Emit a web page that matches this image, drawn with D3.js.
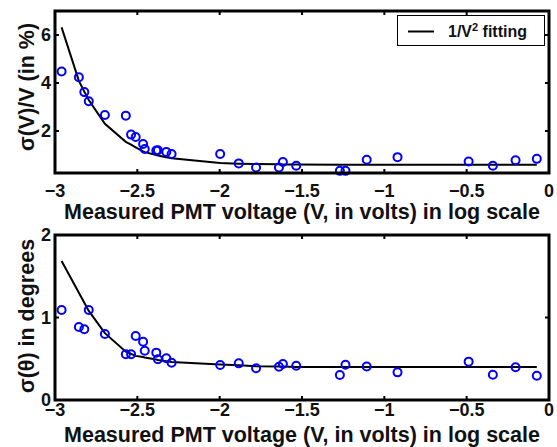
<!DOCTYPE html>
<html>
<head>
<meta charset="utf-8">
<script src="https://cdn.jsdelivr.net/npm/d3@7"></script>
<style>
  html, body { margin: 0; padding: 0; background: #fff; }
  svg { display: block; font-family: "Liberation Sans", Arial, Helvetica, sans-serif; font-weight: bold; }
</style>
</head>
<body>
<svg id="chart" width="557" height="447"></svg>
<script>
// log10 of the measured PMT voltage, shared by both panels
const logV = [-2.960, -2.855, -2.822, -2.795, -2.697, -2.570, -2.538, -2.510, -2.465, -2.455,
              -2.385, -2.375, -2.324, -2.292, -1.997, -1.884, -1.779, -1.640, -1.616, -1.535,
              -1.270, -1.236, -1.107, -0.920, -0.488, -0.341, -0.203, -0.074];

// relative voltage resolution sigma(V)/V in %
const sigmaV = [4.48, 4.24, 3.62, 3.24, 2.67, 2.64, 1.85, 1.75, 1.46, 1.25,
                1.19, 1.20, 1.13, 1.04, 1.04, 0.65, 0.48, 0.48, 0.71, 0.55,
                0.34, 0.34, 0.80, 0.91, 0.73, 0.55, 0.78, 0.84];
const fitV = [6.32, 4.09, 3.64, 3.29, 2.30, 1.55, 1.43, 1.32, 1.15, 1.12,
              1.00, 0.98, 0.91, 0.86, 0.67, 0.64, 0.625, 0.61, 0.605, 0.60,
              0.59, 0.59, 0.59, 0.59, 0.59, 0.59, 0.59, 0.59];

// angular resolution sigma(theta) in degrees
const sigmaTheta = [1.09, 0.885, 0.857, 1.09, 0.80, 0.554, 0.554, 0.776, 0.707, 0.598,
                    0.574, 0.493, 0.505, 0.452, 0.424, 0.444, 0.384, 0.404, 0.436, 0.416,
                    0.303, 0.428, 0.407, 0.335, 0.465, 0.307, 0.396, 0.295];
const fitTheta = [1.685, 1.30, 1.18, 1.08, 0.81, 0.585, 0.56, 0.535, 0.52, 0.515,
                  0.49, 0.485, 0.47, 0.46, 0.43, 0.42, 0.41, 0.405, 0.405, 0.40,
                  0.40, 0.40, 0.40, 0.40, 0.40, 0.40, 0.40, 0.40];

const xTicks = [-3, -2.5, -2, -1.5, -1, -0.5, 0];
const yTicksTop = [2, 4, 6];
const yTicksBottom = [0, 1, 2];

const xLabel = "Measured PMT voltage (V, in volts) in log scale";
const legendLabel = "1/V";

const svg = d3.select("#chart");
const fmt = v => (v < 0 ? "\u2212" : "") + Math.abs(v);

const x = d3.scaleLinear().domain([-3, 0]).range([55, 549]);

function drawPanel(opts) {
  const y = d3.scaleLinear().domain(opts.yDomain).range([opts.bottom, opts.top]);
  const g = svg.append("g");
  const w = x.range()[1] - x.range()[0];
  const h = opts.bottom - opts.top;

  // fit curve
  const line = d3.line().x((d, i) => x(logV[i])).y(d => y(d));
  g.append("path").datum(opts.fit)
    .attr("d", line).attr("fill", "none")
    .attr("stroke", "#000").attr("stroke-width", 2);

  // measurements
  g.selectAll("circle.pt").data(opts.values).join("circle")
    .attr("class", "pt")
    .attr("cx", (d, i) => x(logV[i])).attr("cy", d => y(d))
    .attr("r", 4).attr("fill", "none")
    .attr("stroke", "#0000ff").attr("stroke-width", 2);

  // inward ticks on all four sides
  const tl = 4;
  const ticks = g.append("g").attr("stroke", "#000").attr("stroke-width", 2);
  xTicks.forEach(t => {
    ticks.append("line").attr("x1", x(t)).attr("x2", x(t)).attr("y1", opts.bottom).attr("y2", opts.bottom - tl);
    ticks.append("line").attr("x1", x(t)).attr("x2", x(t)).attr("y1", opts.top).attr("y2", opts.top + tl);
  });
  opts.yTicks.forEach(t => {
    ticks.append("line").attr("x1", x.range()[0]).attr("x2", x.range()[0] + tl).attr("y1", y(t)).attr("y2", y(t));
    ticks.append("line").attr("x1", x.range()[1]).attr("x2", x.range()[1] - tl).attr("y1", y(t)).attr("y2", y(t));
  });

  // axes box
  g.append("rect").attr("x", x.range()[0]).attr("y", opts.top)
    .attr("width", w).attr("height", h)
    .attr("fill", "none").attr("stroke", "#000").attr("stroke-width", 3);

  // tick labels
  g.selectAll("text.xt").data(xTicks).join("text")
    .attr("class", "xt")
    .attr("x", d => x(d)).attr("y", opts.xTickBase)
    .attr("text-anchor", "middle").attr("font-size", 18).attr("fill", "#111")
    .text(fmt);
  g.selectAll("text.yt").data(opts.yTicks).join("text")
    .attr("class", "yt")
    .attr("x", 51).attr("y", d => y(d)).attr("dy", "0.36em")
    .attr("text-anchor", "end").attr("font-size", 18).attr("fill", "#111")
    .text(fmt);

  // axis titles
  g.append("text")
    .attr("x", (x.range()[0] + x.range()[1]) / 2).attr("y", opts.xLabelBase)
    .attr("text-anchor", "middle").attr("font-size", 21.5).attr("fill", "#111")
    .text(xLabel);
  g.append("text")
    .attr("transform", `translate(34,${opts.yLabelMid}) rotate(-90)`)
    .attr("text-anchor", "middle").attr("font-size", 21.5).attr("fill", "#111")
    .text(opts.yLabel);
  return { g, y };
}

drawPanel({
  yDomain: [0.25, 7], top: 11, bottom: 173, yTicks: yTicksTop,
  values: sigmaV, fit: fitV, xTickBase: 197, xLabelBase: 218.5,
  yLabel: "\u03c3(V)/V (in %)", yLabelMid: 87
});

drawPanel({
  yDomain: [0, 2], top: 235, bottom: 400, yTicks: yTicksBottom,
  values: sigmaTheta, fit: fitTheta, xTickBase: 416, xLabelBase: 441.5,
  yLabel: "\u03c3(\u03b8) in degrees", yLabelMid: 316
});

// legend
const lg = svg.append("g");
lg.append("rect").attr("x", 397.5).attr("y", 15.5).attr("width", 147).attr("height", 30)
  .attr("fill", "#fff").attr("stroke", "#000").attr("stroke-width", 1);
lg.append("line").attr("x1", 408).attr("x2", 434).attr("y1", 31.5).attr("y2", 31.5)
  .attr("stroke", "#000").attr("stroke-width", 2);
const lt = lg.append("text").attr("x", 448).attr("y", 37)
  .attr("font-size", 16).attr("fill", "#111");
lt.append("tspan").text(legendLabel);
lt.append("tspan").attr("font-size", 11).attr("dy", -6).text("2");
lt.append("tspan").attr("dy", 6).text(" fitting");
</script>
</body>
</html>
